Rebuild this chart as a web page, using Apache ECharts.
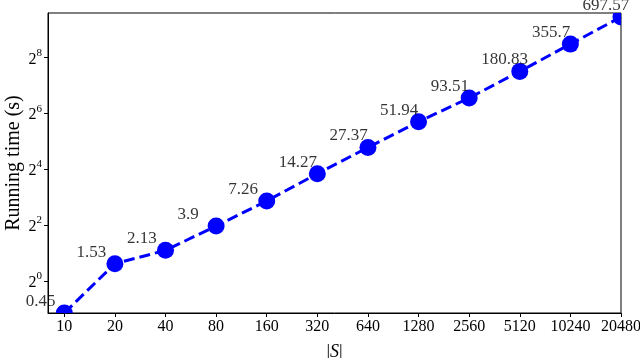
<!DOCTYPE html>
<html>
<head>
<meta charset="utf-8">
<script src="https://cdn.jsdelivr.net/npm/echarts@6/dist/echarts.min.js"></script>
<style>
html,body{margin:0;padding:0;background:#fff;}
#chart{width:640px;height:358px;}
</style>
</head>
<body>
<div id="chart"></div>
<script>
// ---- data ----
var sizes = [10, 20, 40, 80, 160, 320, 640, 1280, 2560, 5120, 10240, 20480];
var times = [0.45, 1.53, 2.13, 3.9, 7.26, 14.27, 27.37, 51.94, 93.51, 180.83, 355.7, 697.57];
var yTickValues = [1, 4, 16, 64, 256];
var yTickExps = ['0', '2', '4', '6', '8'];
var xName = '|S|';
var yName = 'Running time (s)';

var FONT = '"Liberation Serif", "Times New Roman", serif';
var BLUE = '#0000ff';

var points = sizes.map(function (s, i) { return [s, times[i]]; });

var chart = echarts.init(document.getElementById('chart'), null, {renderer: 'canvas'});
chart.setOption({
  animation: false,
  backgroundColor: '#fff',
  grid: {
    left: 48, right: 19, top: 13, bottom: 45,
    containLabel: false, outerBoundsMode: 'none',
    show: true, borderColor: '#000', borderWidth: 1, backgroundColor: 'transparent'
  },
  xAxis: {
    type: 'log', logBase: 2, min: 8, max: 20480,
    name: '|{i|S}|', nameLocation: 'middle', nameGap: 30, nameMoveOverlap: false,
    nameTextStyle: {fontFamily: FONT, fontSize: 18, color: '#000',
      rich: {i: {fontFamily: FONT, fontSize: 18, fontStyle: 'italic', color: '#000'}}},
    axisLine: {show: true, lineStyle: {color: '#000', width: 1}},
    axisTick: {show: true, inside: false, length: 4, customValues: sizes, lineStyle: {color: '#000'}},
    minorTick: {show: false},
    axisLabel: {customValues: sizes, fontFamily: FONT, fontSize: 16, color: '#000', margin: 6,
      hideOverlap: false,
      formatter: function (v) { return String(v); }},
    splitLine: {show: false}
  },
  yAxis: {
    type: 'log', logBase: 2, min: 0.45, max: 770,
    name: yName, nameLocation: 'middle', nameGap: 24, nameMoveOverlap: false,
    nameTextStyle: {fontFamily: FONT, fontSize: 20, color: '#000'},
    axisLine: {show: true, lineStyle: {color: '#000', width: 1}},
    axisTick: {show: true, inside: false, length: 4, customValues: yTickValues, lineStyle: {color: '#000'}},
    minorTick: {show: false},
    axisLabel: {customValues: yTickValues, color: '#000', margin: 6,
      formatter: function (v) {
        var idx = -1;
        for (var i = 0; i < yTickValues.length; i++) { if (Math.abs(yTickValues[i] - v) < 1e-6 * v) idx = i; }
        return '{b|2}{s|' + (idx >= 0 ? yTickExps[idx] : '') + '}';
      },
      rich: {
        b: {fontFamily: FONT, fontSize: 16, color: '#000', lineHeight: 20, verticalAlign: 'bottom'},
        s: {fontFamily: FONT, fontSize: 11, color: '#000', lineHeight: 20, verticalAlign: 'top', padding: [0, 0, 8, 0]}
      }
    },
    splitLine: {show: false}
  },
  series: [
    {
      type: 'line',
      data: points,
      symbol: 'none',
      clip: true,
      lineStyle: {color: BLUE, width: 3, type: [11, 5]},
      z: 2
    },
    {
      type: 'custom',
      data: points,
      clip: true,
      encode: {x: 0, y: 1},
      renderItem: function (params, api) {
        var c = api.coord([api.value(0), api.value(1)]);
        return {type: 'circle', shape: {cx: c[0], cy: c[1], r: 8.5}, style: {fill: BLUE}};
      },
      z: 3
    },
    {
      type: 'scatter',
      data: points,
      clip: false,
      symbolSize: 1,
      itemStyle: {color: 'rgba(0,0,0,0)'},
      label: {
        show: true,
        position: [-38, -11],
        align: 'left',
        verticalAlign: 'middle',
        fontFamily: FONT, fontSize: 17, color: '#000',
        formatter: function (p) { return String(p.value[1]); }
      },
      z: 4
    }
  ]
});
</script>
</body>
</html>
